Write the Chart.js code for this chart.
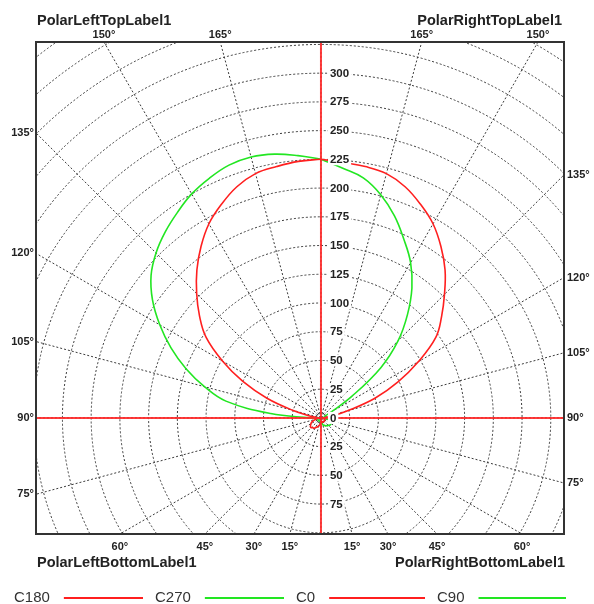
<!DOCTYPE html>
<html>
<head>
<meta charset="utf-8">
<script src="https://cdn.jsdelivr.net/npm/chart.js@4.4.0/dist/chart.umd.min.js"></script>
<style>
    html, body { margin: 0; padding: 0; background: #fff; }
    #wrap { width: 594px; height: 604px; position: relative; }
</style>
</head>
<body>
<div id="wrap"><canvas id="polar-chart"></canvas></div>
<script>
    // gamma angles (0 = straight down, 180 = straight up), every 5 degrees
    const gammaAngles = [0, 5, 10, 15, 20, 25, 30, 35, 40, 45, 50, 55, 60, 65, 70, 75, 80, 85, 90,
        95, 100, 105, 110, 115, 120, 125, 130, 135, 140, 145, 150, 155, 160, 165, 170, 175, 180];

    // intensity, one value per gamma angle
    const c180Values = [4, 5, 6, 7, 8, 9, 10, 11, 11, 12, 12, 11, 10, 9, 7, 5, 4, 3, 2,
        4, 10, 25, 50, 75, 99, 122, 138, 153, 168, 182, 195, 205, 214, 220, 222, 224, 225];
    const c270Values = [3, 3, 3, 3, 3, 3, 3, 3, 3, 3, 3, 3, 3, 3, 3, 3, 3, 4, 10,
        44, 84, 105, 125, 144, 162, 179, 193, 203, 211, 218, 225, 230, 234, 235, 233, 229, 225];
    const c0Values = [3, 3, 3, 3, 4, 4, 4, 4, 4, 4, 4, 4, 4, 3, 3, 3, 3, 2, 2,
        4, 10, 24, 50, 74, 98, 122, 137, 152, 168, 182, 195, 205, 214, 220, 222, 223, 225];
    const c90Values = [4, 4, 5, 6, 7, 7, 8, 8, 9, 9, 10, 10, 10, 9, 8, 7, 5, 4, 3,
        3, 3, 3, 3, 4, 10, 33, 68, 95, 117, 138, 156, 171, 187, 201, 212, 218, 225];

    const seriesNames = ['C180', 'C270', 'C0', 'C90'];
    const radialTicksUp = [0, 25, 50, 75, 100, 125, 150, 175, 200, 225, 250, 275, 300];
    const radialTicksDown = [25, 50, 75];
    const angleTicks = [15, 30, 45, 60, 75, 90, 105, 120, 135, 150, 165];
    const ringStep = 25;
    const ringMax = 475;

    const cornerLabels = {
        leftTop: 'PolarLeftTopLabel1',
        rightTop: 'PolarRightTopLabel1',
        leftBottom: 'PolarLeftBottomLabel1',
        rightBottom: 'PolarRightBottomLabel1'
    };

    const RED = '#ff1f1f';
    const GREEN = '#22e622';
    const FONT = '"Liberation Sans", Arial, sans-serif';

    // polar (gamma, I) -> x/y in intensity units; side -1 is the left half
    function toXY(values, side) {
        return gammaAngles.map(function(g, i) {
            const rad = g * Math.PI / 180;
            return { x: side * values[i] * Math.sin(rad), y: -values[i] * Math.cos(rad) };
        });
    }

    function makeSeries(label, values, side, color) {
        return {
            label: label,
            data: toXY(values, side),
            showLine: true,
            borderColor: color,
            backgroundColor: color,
            borderWidth: 1.6,
            pointRadius: 0,
            tension: 0.4,
            fill: false
        };
    }

    const polarGrid = {
        id: 'polarGrid',
        beforeDatasetsDraw: function(chart) {
            const ctx = chart.ctx;
            const a = chart.chartArea;
            const xs = chart.scales.x, ys = chart.scales.y;
            const cx = xs.getPixelForValue(0), cy = ys.getPixelForValue(0);
            const unit = xs.getPixelForValue(1) - cx;

            ctx.save();
            ctx.beginPath();
            ctx.rect(a.left, a.top, a.right - a.left, a.bottom - a.top);
            ctx.clip();
            ctx.strokeStyle = '#3a3a3a';
            ctx.lineWidth = 1;
            ctx.setLineDash([2, 2]);

            for (let r = ringStep; r <= ringMax; r += ringStep) {
                ctx.beginPath();
                ctx.arc(cx, cy, r * unit, 0, Math.PI * 2);
                ctx.stroke();
            }
            for (let g = 0; g < 360; g += 15) {
                const rad = g * Math.PI / 180;
                ctx.beginPath();
                ctx.moveTo(cx, cy);
                ctx.lineTo(cx + Math.sin(rad) * 800, cy + Math.cos(rad) * 800);
                ctx.stroke();
            }
            ctx.restore();
        },
        afterDatasetsDraw: function(chart) {
            const ctx = chart.ctx;
            const a = chart.chartArea;
            const xs = chart.scales.x, ys = chart.scales.y;
            const cx = xs.getPixelForValue(0), cy = ys.getPixelForValue(0);

            // red cross through the centre
            ctx.save();
            ctx.strokeStyle = 'rgba(255, 40, 40, 0.9)';
            ctx.lineWidth = 2;
            ctx.beginPath();
            ctx.moveTo(a.left, cy); ctx.lineTo(a.right, cy);
            ctx.moveTo(cx, a.top); ctx.lineTo(cx, a.bottom);
            ctx.stroke();

            // frame
            ctx.strokeStyle = '#333';
            ctx.lineWidth = 2;
            ctx.strokeRect(a.left, a.top, a.right - a.left, a.bottom - a.top);

            // radial value labels on the vertical axis
            ctx.font = 'bold 11.5px ' + FONT;
            ctx.textBaseline = 'middle';
            ctx.textAlign = 'left';
            function valueLabel(v, py) {
                const txt = String(v);
                const w = ctx.measureText(txt).width;
                const lx = cx + 9;
                ctx.fillStyle = '#fff';
                ctx.fillRect(lx - 2, py - 6, w + 4, 12);
                ctx.fillStyle = '#222';
                ctx.fillText(txt, lx, py + 0.5);
            }
            radialTicksUp.forEach(function(v) { valueLabel(v, ys.getPixelForValue(v)); });
            radialTicksDown.forEach(function(v) { valueLabel(v, ys.getPixelForValue(-v)); });

            // angle labels where each spoke leaves the frame
            ctx.font = 'bold 11px ' + FONT;
            ctx.fillStyle = '#222';
            [-1, 1].forEach(function(side) {
                angleTicks.forEach(function(g) {
                    const rad = g * Math.PI / 180;
                    const dx = side * Math.sin(rad), dy = Math.cos(rad);
                    const tx = side > 0 ? (a.right - cx) / dx : (a.left - cx) / dx;
                    let ty = Infinity;
                    if (dy > 1e-6) ty = (a.bottom - cy) / dy;
                    else if (dy < -1e-6) ty = (a.top - cy) / dy;
                    const t = Math.min(tx, ty);
                    const px = cx + dx * t, py = cy + dy * t;
                    const txt = g + '\u00b0';
                    if (tx <= ty) {
                        ctx.textBaseline = 'middle';
                        ctx.textAlign = side > 0 ? 'left' : 'right';
                        ctx.fillText(txt, side > 0 ? a.right + 3 : a.left - 2, py);
                    } else if (dy < 0) {
                        ctx.textBaseline = 'alphabetic';
                        ctx.textAlign = 'center';
                        ctx.fillText(txt, px, a.top - 4);
                    } else {
                        ctx.textBaseline = 'alphabetic';
                        ctx.textAlign = 'center';
                        ctx.fillText(txt, px, a.bottom + 16);
                    }
                });
            });

            // corner titles
            ctx.font = 'bold 14.5px ' + FONT;
            ctx.textBaseline = 'alphabetic';
            ctx.textAlign = 'left';
            ctx.fillText(cornerLabels.leftTop, a.left + 1, 25);
            ctx.fillText(cornerLabels.leftBottom, a.left + 1, a.bottom + 33);
            ctx.textAlign = 'right';
            ctx.fillText(cornerLabels.rightTop, a.right - 2, 25);
            ctx.fillText(cornerLabels.rightBottom, a.right + 1, a.bottom + 33);
            ctx.restore();
        },
        afterDraw: function(chart) {
            // legend: name followed by a line sample
            const ctx = chart.ctx;
            ctx.save();
            ctx.font = '15px ' + FONT;
            ctx.textBaseline = 'middle';
            ctx.textAlign = 'left';
            chart.data.datasets.forEach(function(ds, i) {
                const x0 = 14 + i * 141;
                const y0 = 598;
                ctx.fillStyle = '#333';
                ctx.fillText(ds.label, x0, y0);
                const w = ctx.measureText(ds.label).width;
                ctx.strokeStyle = ds.borderColor;
                ctx.lineWidth = 2;
                ctx.beginPath();
                ctx.moveTo(x0 + w + 14, y0);
                ctx.lineTo(x0 + 129, y0);
                ctx.stroke();
            });
            ctx.restore();
        }
    };

    new Chart(document.getElementById('polar-chart'), {
        type: 'scatter',
        data: {
            datasets: [
                makeSeries(seriesNames[0], c180Values, -1, RED),
                makeSeries(seriesNames[1], c270Values, -1, GREEN),
                makeSeries(seriesNames[2], c0Values, 1, RED),
                makeSeries(seriesNames[3], c90Values, 1, GREEN)
            ]
        },
        options: {
            responsive: true,
            maintainAspectRatio: false,
            animation: false,
            layout: { padding: { left: 36, top: 42, right: 30, bottom: 70 } },
            scales: {
                x: { type: 'linear', display: false, min: -248, max: 211.5 },
                y: { type: 'linear', display: false, min: -101, max: 327 }
            },
            plugins: {
                legend: { display: false },
                tooltip: { enabled: false }
            }
        },
        plugins: [polarGrid]
    });
</script>
</body>
</html>
